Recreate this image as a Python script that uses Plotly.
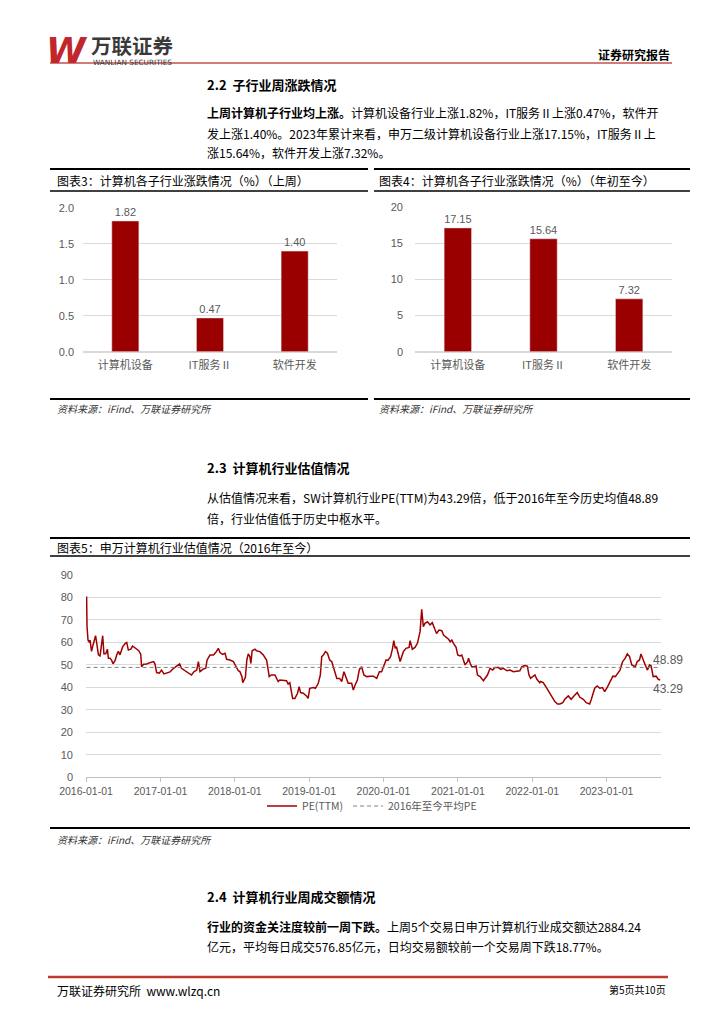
import plotly.graph_objects as go

# ---------------- data ----------------
sub_categories = ["计算机设备", "IT服务Ⅱ", "软件开发"]
week_change = [1.82, 0.47, 1.40]
ytd_change = [17.15, 15.64, 7.32]

pe_avg = 48.89

pe_dates = [
    "2016-01-04", "2016-01-06", "2016-01-11", "2016-01-18", "2016-01-21", "2016-01-28", "2016-02-05", "2016-02-17",
    "2016-02-22", "2016-03-02", "2016-03-10", "2016-03-18", "2016-03-23", "2016-03-29", "2016-04-07", "2016-04-15",
    "2016-04-20", "2016-04-28", "2016-05-06", "2016-05-13", "2016-05-23", "2016-05-31", "2016-06-08", "2016-06-16",
    "2016-06-29", "2016-07-11", "2016-07-19", "2016-07-27", "2016-08-08", "2016-08-17", "2016-08-29", "2016-09-06",
    "2016-09-16", "2016-09-26", "2016-09-30", "2016-10-10", "2016-10-25", "2016-11-10", "2016-11-28", "2016-12-05",
    "2016-12-13", "2016-12-26",
    "2017-01-06", "2017-01-18", "2017-02-03", "2017-02-17", "2017-03-06", "2017-03-21", "2017-04-05", "2017-04-14",
    "2017-05-02", "2017-05-18", "2017-06-02", "2017-06-15", "2017-06-28", "2017-07-06", "2017-07-14", "2017-07-31",
    "2017-08-11", "2017-08-18", "2017-09-01", "2017-09-18", "2017-09-29", "2017-10-12", "2017-10-20", "2017-11-02",
    "2017-11-14", "2017-11-22", "2017-12-08", "2017-12-25",
    "2018-01-08", "2018-01-18", "2018-01-26", "2018-02-05", "2018-02-09", "2018-02-22", "2018-03-01", "2018-03-08",
    "2018-03-16", "2018-03-21", "2018-03-27", "2018-04-10", "2018-04-18", "2018-05-04", "2018-05-21", "2018-06-06",
    "2018-06-19", "2018-06-29", "2018-07-17", "2018-08-02", "2018-08-10", "2018-08-27", "2018-09-12", "2018-09-20",
    "2018-09-28", "2018-10-12", "2018-10-23", "2018-11-05", "2018-11-13", "2018-11-20", "2018-12-03", "2018-12-19",
    "2018-12-27",
    "2019-01-04", "2019-01-22", "2019-02-01", "2019-02-15", "2019-02-25", "2019-03-04", "2019-03-12", "2019-03-22",
    "2019-04-01", "2019-04-12", "2019-04-22", "2019-05-06", "2019-05-17", "2019-05-31", "2019-06-10", "2019-06-21",
    "2019-07-01", "2019-07-12", "2019-07-29", "2019-08-06", "2019-08-15", "2019-08-26", "2019-09-05", "2019-09-16",
    "2019-09-27", "2019-10-11", "2019-10-28", "2019-11-13", "2019-11-29", "2019-12-12", "2019-12-23",
    "2020-01-03", "2020-01-14", "2020-01-23", "2020-02-05", "2020-02-14", "2020-02-21", "2020-02-28", "2020-03-05",
    "2020-03-13", "2020-03-23", "2020-04-08", "2020-04-21", "2020-05-06", "2020-05-11", "2020-05-22", "2020-06-04",
    "2020-06-16", "2020-06-29", "2020-07-07", "2020-07-15", "2020-07-23", "2020-08-04", "2020-08-17", "2020-08-28",
    "2020-09-11", "2020-09-18", "2020-09-30", "2020-10-14", "2020-10-22", "2020-11-04", "2020-11-16", "2020-11-24",
    "2020-12-02", "2020-12-10", "2020-12-23", "2020-12-31",
    "2021-01-11", "2021-01-20", "2021-01-28", "2021-02-05", "2021-02-18", "2021-02-22", "2021-03-02", "2021-03-10",
    "2021-03-22", "2021-03-31", "2021-04-07", "2021-04-20", "2021-05-06", "2021-05-14", "2021-05-26", "2021-06-08",
    "2021-06-21", "2021-07-02", "2021-07-19", "2021-07-30", "2021-08-12", "2021-08-30", "2021-09-14", "2021-09-30",
    "2021-10-18", "2021-11-01", "2021-11-11", "2021-11-26", "2021-12-08", "2021-12-16", "2021-12-24",
    "2022-01-04", "2022-01-14", "2022-01-24", "2022-02-07", "2022-02-11", "2022-02-24", "2022-03-14", "2022-03-29",
    "2022-04-11", "2022-04-22", "2022-05-05", "2022-05-17", "2022-05-31", "2022-06-10", "2022-06-27", "2022-07-11",
    "2022-07-25", "2022-08-10", "2022-08-23", "2022-09-09", "2022-09-23", "2022-10-10", "2022-10-17", "2022-10-25",
    "2022-11-04", "2022-11-16", "2022-11-29", "2022-12-12", "2022-12-23",
    "2023-01-05", "2023-01-18", "2023-02-01", "2023-02-13", "2023-02-23", "2023-03-08", "2023-03-21", "2023-04-03",
    "2023-04-13", "2023-04-24", "2023-05-05", "2023-05-22", "2023-06-01", "2023-06-12", "2023-06-19", "2023-06-28",
    "2023-07-10", "2023-07-21", "2023-07-31", "2023-08-08", "2023-08-18", "2023-09-01", "2023-09-12", "2023-09-22",
]
pe_values = [
    80.4, 67.0, 61.0, 60.0, 61.0, 56.0, 59.0, 63.0,
    60.0, 54.5, 54.0, 60.0, 63.0, 55.0, 55.0, 57.0,
    53.0, 53.0, 52.0, 50.5, 52.0, 54.5, 56.0, 54.5,
    58.0, 59.5, 60.0, 56.6, 57.0, 58.4, 57.4, 57.0,
    56.3, 54.7, 49.2, 50.3, 50.4, 51.0, 51.5, 50.4,
    46.6, 46.3,
    47.7, 46.0, 46.3, 46.9, 48.5, 49.5, 50.4, 48.5,
    47.3, 46.3, 45.5, 47.0, 47.7, 51.5, 47.0, 48.2,
    48.5, 52.2, 54.4, 54.4, 55.5, 57.4, 55.5, 54.7,
    55.2, 52.5, 52.2, 51.5,
    49.2, 47.4, 47.0, 44.8, 42.1, 44.5, 52.2, 54.9,
    53.7, 50.7, 56.3, 57.0, 56.3, 55.9, 54.4, 52.2,
    44.8, 45.5, 45.5, 42.6, 43.3, 43.0, 43.0, 41.5,
    42.1, 35.1, 35.1, 37.4, 40.3, 37.7, 37.4, 36.2,
    35.1,
    39.6, 39.9, 39.6, 41.8, 45.5, 53.7, 54.4, 55.9,
    55.2, 52.2, 51.5, 47.0, 44.0, 44.0, 42.6, 47.0,
    44.8, 41.8, 41.8, 38.8, 41.1, 43.3, 48.0, 49.2,
    45.5, 44.8, 45.0, 45.0, 44.0, 47.0, 47.0,
    49.5, 52.2, 52.0, 53.7, 57.0, 60.8, 57.4, 58.1,
    55.2, 51.5, 55.9, 57.4, 57.8, 60.8, 57.0, 57.8,
    59.6, 64.8, 74.7, 67.0, 68.5, 69.2, 67.8, 68.8,
    65.5, 64.0, 65.5, 65.2, 63.3, 62.3, 61.4, 60.3,
    61.1, 59.6, 57.8, 54.4,
    54.0, 54.4, 52.5, 50.0, 51.5, 53.0, 50.7, 49.2,
    49.2, 49.5, 45.5, 44.8, 43.0, 44.0, 45.5, 48.5,
    47.7, 48.8, 48.8, 48.0, 48.5, 47.4, 47.7, 47.0,
    47.3, 47.4, 49.2, 49.7, 49.5, 45.5, 44.0,
    45.0, 45.5, 43.6, 42.1, 42.6, 42.1, 39.6, 37.4,
    35.1, 33.7, 32.6, 32.6, 33.2, 34.7, 36.2, 34.7,
    36.2, 37.7, 35.6, 34.7, 33.2, 32.6, 34.4, 37.1,
    39.6, 40.6, 39.6, 39.9, 38.1,
    40.1, 42.6, 45.0, 44.8, 46.3, 47.7, 51.5, 53.0,
    54.9, 53.7, 50.0, 49.2, 51.5, 52.2, 54.9, 52.5,
    50.0, 47.7, 50.0, 49.5, 44.8, 45.0, 43.6, 43.29,
]

# ---------------- page geometry helpers ----------------
OFF = 8                      # the page body margin that surrounds the figure
W, H = 724 - OFF, 1024 - OFF
CJK = "Noto Sans CJK SC"
NUM = "Liberation Sans, Noto Sans CJK SC"
RED = "#9b0000"
GRID = "#d9d9d9"
TICK = "#595959"


def fx(x):
    return (x - OFF) / W


def fy(y):
    return 1 - (y - OFF) / H


fig = go.Figure()

# ---------------- bar charts ----------------
fig.add_trace(go.Bar(
    x=sub_categories, y=week_change, marker_color=RED, xaxis="x", yaxis="y",
    texttemplate="%{y:.2f}", textposition="outside", cliponaxis=False,
    textfont=dict(family=NUM, size=11, color=TICK), showlegend=False,
))
fig.add_trace(go.Bar(
    x=sub_categories, y=ytd_change, marker_color=RED, xaxis="x2", yaxis="y2",
    texttemplate="%{y:.2f}", textposition="outside", cliponaxis=False,
    textfont=dict(family=NUM, size=11, color=TICK), showlegend=False,
))

# ---------------- PE line chart ----------------
fig.add_trace(go.Scatter(
    x=pe_dates, y=pe_values, mode="lines", name="PE(TTM)",
    line=dict(color="#a00000", width=1.5), xaxis="x3", yaxis="y3",
))
fig.add_trace(go.Scatter(
    x=[pe_dates[0], pe_dates[-1]], y=[pe_avg, pe_avg], mode="lines",
    name="2016年至今平均PE", line=dict(color="#808080", width=1, dash="4px,3px"),
    xaxis="x3", yaxis="y3",
))

tickfont = dict(family=NUM, size=11, color=TICK)
datefont = dict(family=NUM, size=10.5, color=TICK)
catfont = dict(family=CJK, size=11, color=TICK)

layout_axes = dict(
    xaxis=dict(domain=[fx(83), fx(337)], anchor="y", showgrid=False, showline=False,
               ticks="", tickfont=catfont, ticklabelstandoff=5, automargin=False),
    yaxis=dict(domain=[fy(351.7), fy(208)], anchor="x", range=[0, 2], dtick=0.5,
               tickformat=".1f", gridcolor=GRID, zeroline=True, zerolinecolor=GRID,
               showline=False, tickfont=tickfont, ticklabelstandoff=8, automargin=False),
    xaxis2=dict(domain=[fx(415), fx(672)], anchor="y2", showgrid=False, showline=False,
                ticks="", tickfont=catfont, ticklabelstandoff=5, automargin=False),
    yaxis2=dict(domain=[fy(351.7), fy(207.3)], anchor="x2", range=[0, 20], dtick=5,
                gridcolor=GRID, zeroline=True, zerolinecolor=GRID,
                showline=False, tickfont=tickfont, ticklabelstandoff=11, automargin=False),
    xaxis3=dict(domain=[fx(86), fx(660.7)], anchor="y3", type="date",
                range=["2016-01-01", "2023-09-24"], tick0="2016-01-01", dtick="M12",
                tickformat="%Y-%m-%d", showgrid=False, showline=True, linecolor="#bfbfbf",
                ticks="outside", ticklen=4, tickcolor="#bfbfbf", tickfont=datefont,
                automargin=False),
    yaxis3=dict(domain=[fy(777.3), fy(575)], anchor="x3", range=[0, 90], dtick=10,
                gridcolor=GRID, zeroline=False, showline=False, tickfont=tickfont,
                ticklabelstandoff=12, automargin=False),
)

# ---------------- shapes ----------------
shapes = []


def hline(x0, x1, y, color="black", width=2):
    shapes.append(dict(type="line", xref="paper", yref="paper", x0=fx(x0), x1=fx(x1),
                       y0=fy(y), y1=fy(y), line=dict(color=color, width=width)))


hline(50, 672, 63, color="#c0504d", width=1.5)          # header red rule
# chart 3 / 4 frames
hline(50, 368, 169, width=2)
hline(50, 368, 191, width=1.5)
hline(50, 368, 399, width=2)
hline(374, 690, 169, width=2)
hline(374, 690, 191, width=1.5)
hline(374, 690, 399, width=2)
# chart 5 frame
hline(50, 690, 538, width=2)
hline(50, 690, 556, width=1.5)
hline(50, 690, 828, width=2)
# footer rule
hline(48, 668, 977, color="#c0392b", width=2.5)

# ---------------- text annotations ----------------
ann = []


def text(x, y, s, size=12, color="black", anchor="left", family=CJK, yanchor="middle"):
    ann.append(dict(xref="paper", yref="paper", x=fx(x), y=fy(y), text=s, showarrow=False,
                    xanchor=anchor, yanchor=yanchor, align="left",
                    font=dict(family=family, size=size, color=color)))


# logo
text(44, 50, "<b><i>W</i></b>", size=36, color="#c1272d", family="DejaVu Sans")
text(89, 44.5, "<b>万联证券</b>", size=20.5, color="#3a3a3a")
text(91, 62, "WANLIAN SECURITIES", size=7.3, color="#3a3a3a", family="DejaVu Sans")
text(672, 54, "<b>证券研究报告</b>", size=12, anchor="right")

# section 2.2
text(205, 85, "<b>2.2  子行业周涨跌情况</b>", size=13)
text(205, 112, "<b>上周计算机子行业均上涨。</b>计算机设备行业上涨1.82%，IT服务Ⅱ上涨0.47%，软件开", size=12)
text(205, 133, "发上涨1.40%。2023年累计来看，申万二级计算机设备行业上涨17.15%，IT服务Ⅱ上", size=12)
text(205, 153, "涨15.64%，软件开发上涨7.32%。", size=12)

text(55, 180, "图表3：计算机各子行业涨跌情况（%）（上周）", size=12)
text(377, 180, "图表4：计算机各子行业涨跌情况（%）（年初至今）", size=12)
text(55, 409, "<i>资料来源：iFind、万联证券研究所</i>", size=10, color="#333333")
text(377, 409, "<i>资料来源：iFind、万联证券研究所</i>", size=10, color="#333333")

# section 2.3
text(205, 467, "<b>2.3  计算机行业估值情况</b>", size=13)
text(205, 497, "从估值情况来看，SW计算机行业PE(TTM)为43.29倍，低于2016年至今历史均值48.89", size=12)
text(205, 518, "倍，行业估值低于历史中枢水平。", size=12)
text(55, 547, "图表5：申万计算机行业估值情况（2016年至今）", size=12)
text(55, 839, "<i>资料来源：iFind、万联证券研究所</i>", size=10, color="#333333")

# PE end labels
ann.append(dict(xref="x3", yref="y3", x=pe_dates[-1], y=pe_avg, text=f"{pe_avg:.2f}",
                showarrow=False, xanchor="left", yanchor="middle", xshift=-9, yshift=7,
                font=dict(family=NUM, size=12, color=TICK)))
ann.append(dict(xref="x3", yref="y3", x=pe_dates[-1], y=pe_values[-1], text=f"{pe_values[-1]:.2f}",
                showarrow=False, xanchor="left", yanchor="middle", xshift=-9, yshift=-9,
                font=dict(family=NUM, size=12, color=TICK)))

# section 2.4
text(205, 896, "<b>2.4  计算机行业周成交额情况</b>", size=13)
text(205, 926, "<b>行业的资金关注度较前一周下跌。</b>上周5个交易日申万计算机行业成交额达2884.24", size=12)
text(205, 946, "亿元，平均每日成交576.85亿元，日均交易额较前一个交易周下跌18.77%。", size=12)

# footer
text(55, 990, "万联证券研究所  www.wlzq.cn", size=12)
text(668, 989, "第5页共10页", size=10, anchor="right")

fig.update_layout(
    width=W, height=H, margin=dict(l=0, r=0, t=0, b=0, pad=0, autoexpand=False),
    paper_bgcolor="white", plot_bgcolor="white",
    bargap=0.68,
    font=dict(family=CJK, color=TICK),
    showlegend=True,
    legend=dict(orientation="h", x=fx(372), xanchor="center", y=fy(806), yanchor="middle",
                itemwidth=30, font=dict(family=CJK, size=10.5, color=TICK),
                bgcolor="rgba(0,0,0,0)"),
    shapes=shapes, annotations=ann,
    **layout_axes,
)

fig.write_html("out.html")
